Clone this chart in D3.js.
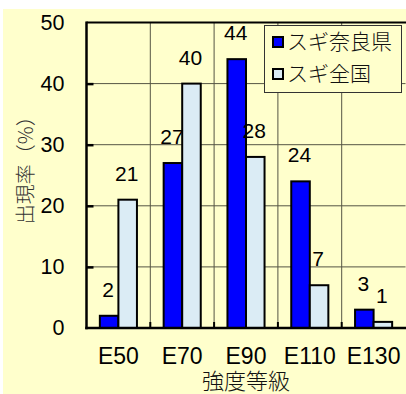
<!DOCTYPE html>
<html><head><meta charset="utf-8">
<script src="https://cdn.jsdelivr.net/npm/d3@7"></script>
<style>
html,body{margin:0;padding:0;background:#fff;}
svg{display:block;}
</style>
</head><body>
<script>
// Strength grade distribution of sugi (Japanese cedar) lumber
const grades = ["E50", "E70", "E90", "E110", "E130"];
const seriesNames = ["スギ奈良県", "スギ全国"];
const naraValues = [2, 27, 44, 24, 3];
const nationalValues = [21, 40, 28, 7, 1];
const yTicks = [0, 10, 20, 30, 40, 50];
const yTitle = "出現率（%）";
const xTitle = "強度等級";
const seriesColors = ["#0000ff", "#dbecf5"];

const W = 406, H = 394;
const plot = {left: 86.5, right: 405.5, top: 22.5, bottom: 328};

const svg = d3.select("body").append("svg").attr("width", W).attr("height", H);

// chart background
svg.append("rect").attr("x", 3).attr("y", 9).attr("width", W - 3).attr("height", H - 9)
  .attr("fill", "#ffffcc");

const x = d3.scaleBand().domain(grades).range([plot.left, plot.right]).paddingInner(0).paddingOuter(0);
const xs = d3.scaleBand().domain(seriesNames).range([0, x.bandwidth()]).paddingInner(0).paddingOuter(0.72);
const y = d3.scaleLinear().domain([0, 50]).range([plot.bottom, plot.top]);

const series = [naraValues, nationalValues];
const rows = [];
grades.forEach((g, i) => series.forEach((vals, s) => rows.push({g, s, v: vals[i]})));

// horizontal gridlines
svg.append("g").selectAll("line").data(yTicks.filter(t => t > 0 && t < 50)).join("line")
  .attr("x1", plot.left).attr("x2", plot.right)
  .attr("y1", d => y(d)).attr("y2", d => y(d))
  .attr("stroke", "#555544").attr("stroke-width", 1);

// vertical gridlines at category boundaries
svg.append("g").selectAll("line").data(grades.slice(1)).join("line")
  .attr("x1", d => x(d)).attr("x2", d => x(d))
  .attr("y1", plot.top).attr("y2", plot.bottom)
  .attr("stroke", "#555544").attr("stroke-width", 1);

// bars
svg.append("g").selectAll("rect").data(rows).join("rect")
  .attr("x", d => x(d.g) + xs(seriesNames[d.s]))
  .attr("width", xs.bandwidth())
  .attr("y", d => y(d.v))
  .attr("height", d => y(0) - y(d.v))
  .attr("fill", d => seriesColors[d.s])
  .attr("stroke", "#000").attr("stroke-width", 2);

// value labels
svg.append("g").selectAll("text").data(rows).join("text")
  .attr("x", d => x(d.g) + xs(seriesNames[d.s]) + xs.bandwidth() / 2 - 1)
  .attr("y", d => y(d.v) - 19)
  .attr("text-anchor", "middle")
  .attr("font-family", "'Liberation Sans Narrow', 'Arial Narrow', sans-serif")
  .attr("font-size", 21)
  .attr("fill", "#000")
  .text(d => d.v);

// frame: top line
svg.append("line").attr("x1", plot.left).attr("x2", W).attr("y1", plot.top).attr("y2", plot.top)
  .attr("stroke", "#000").attr("stroke-width", 2);

// inward ticks on the value axis
svg.append("g").attr("transform", `translate(${plot.left},0)`)
  .call(d3.axisRight(y).tickValues(yTicks.filter(t => t > 0 && t < 50)).tickSize(7).tickFormat(""))
  .call(g => g.select(".domain").remove())
  .call(g => g.selectAll(".tick line").attr("stroke", "#000").attr("stroke-width", 2.5));

// value axis labels
svg.append("g").attr("transform", `translate(${plot.left},0)`)
  .call(d3.axisLeft(y).tickValues(yTicks).tickSize(0).tickPadding(22))
  .call(g => g.select(".domain").remove())
  .call(g => g.selectAll(".tick text")
    .attr("font-family", "'Liberation Sans', Arial, sans-serif")
    .attr("font-size", 21.5).attr("fill", "#000"));

// small inward ticks at category boundaries
svg.append("g").selectAll("line").data(grades.slice(1)).join("line")
  .attr("x1", d => x(d)).attr("x2", d => x(d))
  .attr("y1", plot.bottom).attr("y2", plot.bottom - 6)
  .attr("stroke", "#000").attr("stroke-width", 2);

// category axis labels
svg.append("g").attr("transform", `translate(0,${plot.bottom})`)
  .call(d3.axisBottom(x).tickSize(0).tickPadding(20))
  .call(g => g.select(".domain").remove())
  .call(g => g.selectAll(".tick text")
    .attr("font-family", "'Liberation Sans', Arial, sans-serif")
    .attr("font-size", 23).attr("fill", "#000"));

// left and bottom axis lines
svg.append("line").attr("x1", plot.left).attr("x2", plot.left).attr("y1", plot.top - 1).attr("y2", plot.bottom + 1.25)
  .attr("stroke", "#000").attr("stroke-width", 2.5);
svg.append("line").attr("x1", plot.left - 1.25).attr("x2", W).attr("y1", plot.bottom).attr("y2", plot.bottom)
  .attr("stroke", "#000").attr("stroke-width", 2.5);

// axis titles
svg.append("text")
  .attr("transform", `translate(33,${(plot.top + plot.bottom) / 2 - 10}) rotate(-90)`)
  .attr("text-anchor", "middle")
  .attr("font-family", "'Noto Sans CJK JP', sans-serif")
  .attr("font-size", 20).attr("font-weight", 300).attr("fill", "#333")
  .text(yTitle);

svg.append("text")
  .attr("x", (plot.left + plot.right) / 2).attr("y", 389)
  .attr("text-anchor", "middle")
  .attr("font-family", "'Noto Sans CJK JP', sans-serif")
  .attr("font-size", 22).attr("font-weight", 300).attr("fill", "#111")
  .text(xTitle);

// legend
const legend = svg.append("g").attr("transform", "translate(264,25)");
legend.append("rect").attr("x", 0.5).attr("y", 0.5).attr("width", 137).attr("height", 67)
  .attr("fill", "#ffffcc").attr("stroke", "#333").attr("stroke-width", 1);
const item = legend.selectAll("g").data(seriesNames).join("g")
  .attr("transform", (d, i) => `translate(0,${12 + i * 32})`);
item.append("rect").attr("x", 9).attr("y", 0).attr("width", 10).attr("height", 10)
  .attr("fill", (d, i) => seriesColors[i]).attr("stroke", "#000").attr("stroke-width", 2);
item.append("text").attr("x", 23).attr("y", 12)
  .attr("font-family", "'Noto Sans CJK JP', sans-serif")
  .attr("font-size", 21).attr("font-weight", 300).attr("fill", "#111")
  .text(d => d);
</script>
</body></html>
